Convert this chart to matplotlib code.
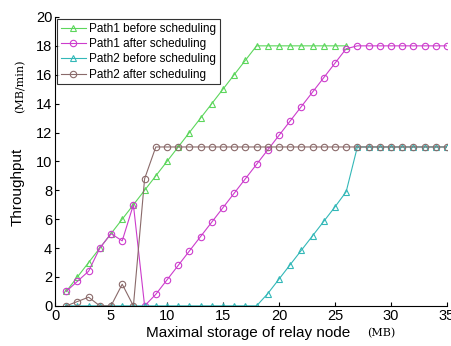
import matplotlib.pyplot as plt
import numpy as np

plt.rcParams['font.family'] = ['Liberation Sans', 'DejaVu Sans']

# storage sizes (MB)
x_all = np.arange(1, 36)

# Path1 before scheduling (green triangles), visible up to x=26
p1_before_x = np.arange(1, 27)
p1_before = [1, 2, 3, 4, 5, 6, 7, 8, 9, 10, 11, 12, 13, 14, 15, 16, 17, 18,
             18, 18, 18, 18, 18, 18, 18, 18]

# Path1 after scheduling (magenta circles)
p1_after = [1, 1.7, 2.4, 4, 5, 4.5, 7, 0, 0.8, 1.8, 2.8, 3.8, 4.8, 5.8, 6.8,
            7.8, 8.8, 9.8, 10.8, 11.8, 12.8, 13.8, 14.8, 15.8, 16.8, 17.8,
            18, 18, 18, 18, 18, 18, 18, 18, 18]

# Path2 before scheduling (cyan triangles)
p2_before = [0] * 18 + [0.85, 1.85, 2.85, 3.85, 4.85, 5.85, 6.85, 7.9,
                        11, 11, 11, 11, 11, 11, 11, 11, 11]

# Path2 after scheduling (brown circles)
p2_after = [0, 0.3, 0.6, 0, 0, 1.5, 0, 8.8] + [11] * 27

fig = plt.figure(figsize=(4.51, 3.46), dpi=100)
ax = fig.add_axes([0.122, 0.116, 0.869, 0.835])

ms = 4.6
lw = 0.8
ax.plot(p1_before_x, p1_before, color='#5cd65c', marker='^', mfc='none',
        ms=ms, lw=lw, mew=0.8, label='Path1 before scheduling')
ax.plot(x_all, p1_after, color='#cc3ccc', marker='o', mfc='none',
        ms=ms, lw=lw, mew=0.8, label='Path1 after scheduling')
ax.plot(x_all, p2_before, color='#33b8b8', marker='^', mfc='none',
        ms=ms, lw=lw, mew=0.8, label='Path2 before scheduling')
ax.plot(x_all, p2_after, color='#8a6a6a', marker='o', mfc='none',
        ms=ms, lw=lw, mew=0.8, label='Path2 after scheduling')

ax.set_xlim(0, 35)
ax.set_ylim(0, 20)
ax.set_xticks(range(0, 36, 5))
ax.set_yticks(range(0, 21, 2))
ax.tick_params(direction='in', labelsize=10.5, length=3, width=0.8,
               colors='black', pad=2)
for s in ['top', 'right']:
    ax.spines[s].set_visible(False)
for s in ['left', 'bottom']:
    ax.spines[s].set_linewidth(0.8)

leg = ax.legend(loc='upper left', fontsize=8.5, frameon=True, fancybox=False,
                edgecolor='black', handlelength=2.1, handletextpad=0.3,
                borderpad=0.3, labelspacing=0.28, borderaxespad=0.2)
leg.get_frame().set_linewidth(0.8)

# axis labels: words in sans, units in a smaller serif-like font
fig.text(0.04, 0.46, 'Throughput', rotation=90, fontsize=11,
         ha='center', va='center')
fig.text(0.044, 0.75, '(MB/min)', rotation=90, fontsize=8,
         family=['DejaVu Serif'], ha='center', va='center')
fig.text(0.55, 0.038, 'Maximal storage of relay node', fontsize=11,
         ha='center', va='center')
fig.text(0.845, 0.038, '(MB)', fontsize=8,
         family=['DejaVu Serif'], ha='center', va='center')

fig.savefig('out.png', dpi=100)
